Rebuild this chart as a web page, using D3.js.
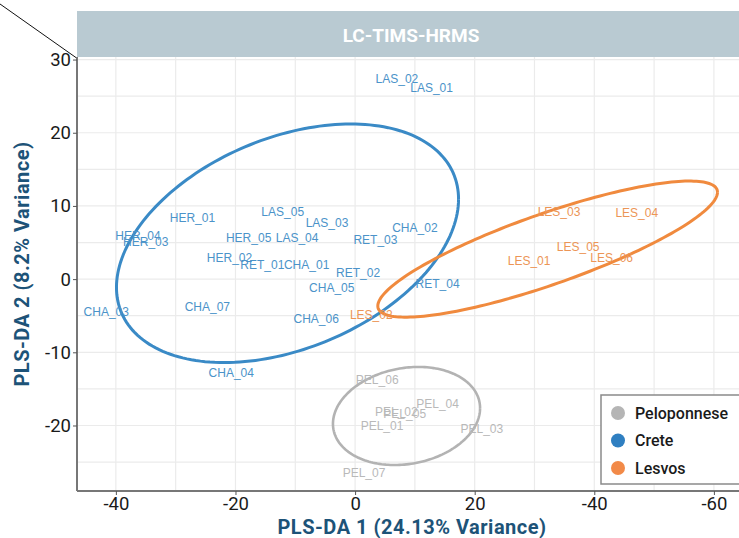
<!DOCTYPE html>
<html>
<head>
<meta charset="utf-8">
<script src="https://cdn.jsdelivr.net/npm/d3@7"></script>
<style>
  html, body { margin: 0; padding: 0; background: #fff; }
  svg { display: block; }
</style>
</head>
<body>
<svg id="chart" width="739" height="538"></svg>
<script>
// ---- Data ----
const groups = ["Peloponnese", "Crete", "Lesvos"];
const groupColors = ["#b5b5b5", "#2f7fc1", "#f28a48"];
const labelColors = ["#b9b9b9", "#4b93c9", "#ec9556"];
const ellipseColors = ["#b3b3b3", "#3a8ac6", "#f08a3e"];

const creteNames = ["LAS_02","LAS_01","HER_01","LAS_05","LAS_03","CHA_02","HER_04","HER_03","HER_05","LAS_04","RET_03","HER_02","RET_01","CHA_01","RET_02","RET_04","CHA_05","CHA_03","CHA_07","CHA_06","CHA_04"];
const creteX = [7.0, 12.8, -27.2, -12.1, -4.7, 10.0, -36.3, -35.0, -17.8, -9.7, 3.4, -21.0, -15.5, -8.1, 0.5, 13.8, -3.9, -41.6, -24.7, -6.5, -20.7];
const creteY = [27.4, 26.2, 8.4, 9.2, 7.7, 7.0, 5.9, 5.1, 5.7, 5.7, 5.4, 2.9, 1.9, 1.9, 0.9, -0.7, -1.2, -4.4, -3.8, -5.4, -12.8];

const lesvosNames = ["LES_03","LES_04","LES_05","LES_06","LES_01","LES_02"];
const lesvosX = [34.1, 47.1, 37.3, 42.9, 29.1, 2.7];
const lesvosY = [9.2, 9.0, 4.4, 2.9, 2.5, -4.9];

const pelNames = ["PEL_06","PEL_04","PEL_02","PEL_05","PEL_01","PEL_03","PEL_07"];
const pelX = [3.7, 13.8, 6.9, 8.3, 4.5, 21.2, 1.5];
const pelY = [-13.8, -17.1, -18.1, -18.4, -20.0, -20.5, -26.5];

// Ellipse parameters (data units): centre, half-extent in x and y, correlation
const ellCx  = [8.6, -11.3, 32.2];
const ellCy  = [-18.7, 4.9, 4.1];
const ellHx  = [12.3, 28.6, 28.4];
const ellHy  = [6.7, 16.3, 9.3];
const ellRho = [0.16, 0.37, 0.835];

const xTickValues = [-40, -20, 0, 20, 40, 60];
const xTickLabels = ["-40", "-20", "0", "20", "-40", "-60"];
const yTickValues = [30, 20, 10, 0, -10, -20];
const yTickLabels = ["30", "20", "10", "0", "-10", "-20"];
const xGrid = [-40, -30, -20, -10, 0, 10, 20, 30, 40, 50, 60];
const yGrid = [30, 25, 20, 15, 10, 5, 0, -5, -10, -15, -20, -25];

const title = "LC-TIMS-HRMS";
const xTitle = "PLS-DA 1 (24.13% Variance)";
const yTitle = "PLS-DA 2 (8.2% Variance)";

// ---- Layout ----
const svg = d3.select("#chart");
const L = 77, R = 745, T = 57, B = 491;
const x = d3.scaleLinear().domain([-46.5, 65.2]).range([L, R]);
const y = d3.scaleLinear().domain([30.35, -28.95]).range([T, B]);

// Panel background
svg.append("rect").attr("x", L).attr("y", T).attr("width", R - L).attr("height", B - T).attr("fill", "#fff");

// Grid
const grid = svg.append("g");
grid.selectAll("line.vx").data(xGrid).join("line")
  .attr("x1", d => x(d)).attr("x2", d => x(d)).attr("y1", T).attr("y2", B)
  .attr("stroke", "#ebebeb").attr("stroke-width", 1.2);
grid.selectAll("line.hy").data(yGrid).join("line")
  .attr("y1", d => y(d)).attr("y2", d => y(d)).attr("x1", L).attr("x2", R)
  .attr("stroke", "#ebebeb").attr("stroke-width", 1.2);

// Strip title
svg.append("rect").attr("x", L).attr("y", 11).attr("width", R - L).attr("height", T - 11).attr("fill", "#b9cad2");
svg.append("text").attr("x", (L + R) / 2).attr("y", 35).attr("dy", "0.35em")
  .attr("text-anchor", "middle").attr("fill", "#fff")
  .attr("font-family", "Roboto").attr("font-weight", 700).attr("font-size", 19)
  .text(title);

// Diagonal line
svg.append("line").attr("x1", 0).attr("y1", 4).attr("x2", 78).attr("y2", 59)
  .attr("stroke", "#111").attr("stroke-width", 1);

// Ellipses
const tSteps = d3.range(0, 201).map(i => i / 200 * 2 * Math.PI);
const lineGen = d3.line().x(d => x(d[0])).y(d => y(d[1])).curve(d3.curveLinear);
groups.forEach((g, i) => {
  const phi = Math.acos(ellRho[i]);
  const pts = tSteps.map(t => [ellCx[i] + ellHx[i] * Math.cos(t), ellCy[i] + ellHy[i] * Math.cos(t - phi)]);
  svg.append("path").attr("d", lineGen(pts)).attr("fill", "none")
    .attr("stroke", ellipseColors[i]).attr("stroke-width", i === 0 ? 2.6 : 3);
});

// Labels
function drawLabels(names, xs, ys, color) {
  svg.append("g").selectAll("text").data(names).join("text")
    .attr("x", (d, i) => x(xs[i])).attr("y", (d, i) => y(ys[i])).attr("dy", "0.35em")
    .attr("text-anchor", "middle").attr("fill", color)
    .attr("font-family", "Liberation Sans, Arial, sans-serif").attr("font-size", 12)
    .text(d => d);
}
drawLabels(pelNames, pelX, pelY, labelColors[0]);
drawLabels(creteNames, creteX, creteY, labelColors[1]);
drawLabels(lesvosNames, lesvosX, lesvosY, labelColors[2]);

// Axes
const xAxis = d3.axisBottom(x).tickValues(xTickValues).tickSize(4).tickPadding(2)
  .tickFormat((d, i) => xTickLabels[i]);
const gx = svg.append("g").attr("transform", `translate(0,${B})`).call(xAxis);
gx.select(".domain").attr("d", `M${L},0H${R}`).attr("stroke", "#777").attr("stroke-width", 2);
gx.selectAll(".tick line").attr("stroke", "#555");
gx.selectAll(".tick text").attr("font-family", "Roboto").attr("font-size", 18.5).attr("fill", "#1a1a1a");

const yAxis = d3.axisLeft(y).tickValues(yTickValues).tickSize(4).tickPadding(2)
  .tickFormat((d, i) => yTickLabels[i]);
const gy = svg.append("g").attr("transform", `translate(${L},0)`).call(yAxis);
gy.select(".domain").attr("d", `M0,${T}V${B}`).attr("stroke", "#777").attr("stroke-width", 2);
gy.selectAll(".tick line").attr("stroke", "#555");
gy.selectAll(".tick text").attr("font-family", "Roboto").attr("font-size", 18.5).attr("fill", "#1a1a1a");

// Axis titles
svg.append("text").attr("x", 412).attr("y", 527).attr("dy", "0.35em").attr("text-anchor", "middle")
  .attr("fill", "#1d5378").attr("font-family", "Roboto").attr("font-weight", 700).attr("font-size", 20)
  .attr("letter-spacing", 0.5)
  .text(xTitle);
svg.append("text").attr("transform", "translate(22,264) rotate(-90)").attr("dy", "0.35em").attr("text-anchor", "middle")
  .attr("fill", "#1d5378").attr("font-family", "Roboto").attr("font-weight", 700).attr("font-size", 20)
  .attr("letter-spacing", 0.5)
  .text(yTitle);

// Legend
const lg = svg.append("g");
lg.append("rect").attr("x", 601).attr("y", 395).attr("width", 150).attr("height", 89)
  .attr("fill", "#fff").attr("stroke", "#8a8a8a").attr("stroke-width", 1.5);
groups.forEach((g, i) => {
  const cy = 413 + i * 27.5;
  lg.append("circle").attr("cx", 618).attr("cy", cy).attr("r", 7).attr("fill", groupColors[i]);
  lg.append("text").attr("x", 635).attr("y", cy).attr("dy", "0.35em")
    .attr("font-family", "Roboto").attr("font-weight", 500).attr("font-size", 16).attr("fill", "#1a1a1a")
    .text(g);
});
</script>
</body>
</html>
